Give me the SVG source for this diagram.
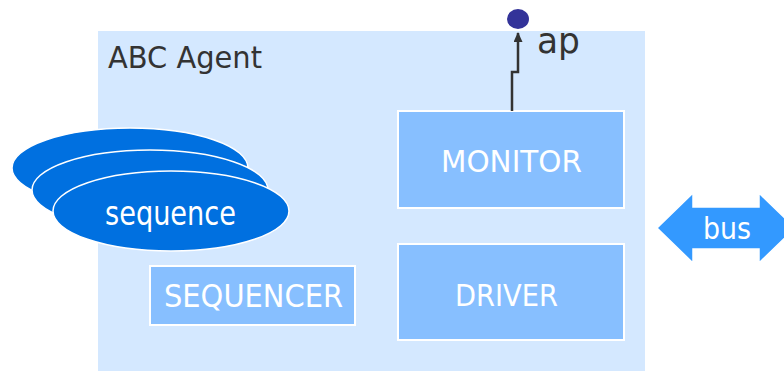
<svg xmlns="http://www.w3.org/2000/svg" width="784" height="371" viewBox="0 0 784 371">
  <defs>
    <marker id="arrowHead" markerWidth="10" markerHeight="9" refX="9" refY="4.5" orient="auto" markerUnits="userSpaceOnUse" viewBox="0 0 10 9">
      <path d="M0,0 L10,4.5 L0,9 Z" fill="#333333"/>
    </marker>
    <style>
      text { font-family: "DejaVu Sans", Verdana, sans-serif; }
      .box { fill: #87BFFF; stroke: #FFFFFF; stroke-width: 2; }
      .seq { fill: #0070E0; stroke: #FFFFFF; stroke-width: 1.5; }
      .light { fill: #FFFFFF; font-size: 31px; }
      .dark { fill: #333333; font-size: 31px; }
    </style>
  </defs>

  <!-- agent container -->
  <g id="agent">
    <rect x="98" y="31" width="547" height="345" fill="#D4E8FF"/>
    <text class="dark" x="108" y="68" textLength="154" lengthAdjust="spacingAndGlyphs">ABC Agent</text>
  </g>

  <!-- stacked sequence items -->
  <g id="sequences">
    <ellipse class="seq" cx="130" cy="168" rx="118" ry="40"/>
    <ellipse class="seq" cx="150" cy="190" rx="118" ry="40"/>
    <ellipse class="seq" cx="171" cy="211" rx="118" ry="40"/>
    <text class="light" x="105" y="225" style="font-size:34px" textLength="131" lengthAdjust="spacingAndGlyphs">sequence</text>
  </g>

  <g id="sequencer">
    <rect class="box" x="150" y="266" width="205" height="59"/>
    <text class="light" x="164" y="307" style="font-size:32px" textLength="179" lengthAdjust="spacingAndGlyphs">SEQUENCER</text>
  </g>

  <g id="monitor">
    <rect class="box" x="398" y="111" width="226" height="97"/>
    <text class="light" x="441" y="172" textLength="141" lengthAdjust="spacingAndGlyphs">MONITOR</text>
  </g>

  <g id="driver">
    <rect class="box" x="398" y="244" width="226" height="96"/>
    <text class="light" x="455" y="306" textLength="103" lengthAdjust="spacingAndGlyphs">DRIVER</text>
  </g>

  <!-- analysis port -->
  <g id="ap">
    <ellipse cx="518" cy="19" rx="11" ry="10" fill="#333399"/>
    <text class="dark" x="537" y="53" style="font-size:35px" textLength="43" lengthAdjust="spacingAndGlyphs">ap</text>
  </g>

  <!-- bus interface -->
  <g id="bus">
    <path d="M657,228 L693,193 L693,207 L759,207 L759,193 L795,228 L759,263 L759,249 L693,249 L693,263 Z" fill="#3399FF" stroke="#FFFFFF" stroke-width="1.5"/>
    <text class="light" x="703" y="239" textLength="48" lengthAdjust="spacingAndGlyphs">bus</text>
  </g>

  <g id="connectors">
    <path d="M512,111 L512,72 L518,72 L518,33" fill="none" stroke="#333333" stroke-width="2.5" marker-end="url(#arrowHead)"/>
  </g>
</svg>
